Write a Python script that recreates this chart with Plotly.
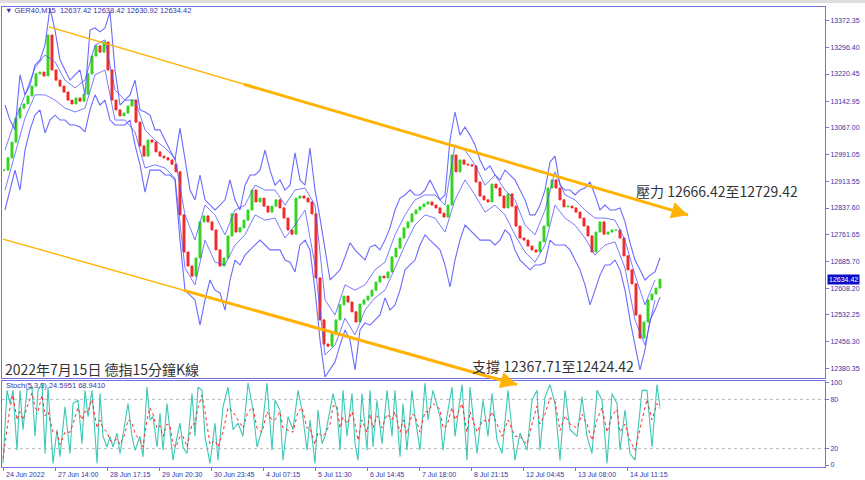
import plotly.graph_objects as go

# ---------------- data ----------------
date_labels = ["24 Jun 2022", "27 Jun 14:00", "28 Jun 17:15", "29 Jun 20:30", "30 Jun 23:45",
               "4 Jul 07:15", "5 Jul 11:30", "6 Jul 14:45", "7 Jul 18:00", "8 Jul 21:15",
               "12 Jul 04:45", "13 Jul 08:00", "14 Jul 11:15"]
date_bars = [-0.25, 12.75, 25.75, 38.75, 51.75, 64.75, 77.75, 90.75, 103.75, 116.75, 129.75, 142.75, 155.75]

price_ticks = [13372.35, 13296.40, 13220.45, 13142.95, 13067.00, 12991.05, 12913.55,
               12837.60, 12761.65, 12685.70, 12608.20, 12532.25, 12456.30, 12380.35]

# close price of each plotted bar
close = [12946, 12981, 13026, 13095, 13123, 13135, 13158, 13186, 13221, 13226,
         13215, 13332, 13232, 13203, 13186, 13169, 13146, 13135, 13152, 13143,
         13163, 13221, 13272, 13301, 13283, 13312, 13232, 13146, 13118, 13101,
         13109, 13129, 13146, 13083, 13015, 12986, 13032, 13026, 12998, 12986,
         12981, 12975, 12963, 12941, 12818, 12712, 12672, 12643, 12695, 12798,
         12815, 12798, 12775, 12718, 12672, 12695, 12758, 12821, 12769, 12781,
         12803, 12832, 12889, 12855, 12866, 12843, 12826, 12843, 12861, 12838,
         12809, 12775, 12763, 12866, 12872, 12866, 12855, 12821, 12638, 12518,
         12449, 12443, 12478, 12518, 12561, 12586, 12569, 12541, 12512, 12563,
         12575, 12586, 12603, 12626, 12643, 12638, 12655, 12698, 12723, 12752,
         12781, 12798, 12821, 12832, 12841, 12849, 12855, 12846, 12838, 12823,
         12812, 12846, 12989, 12941, 12975, 12963, 12961, 12958, 12912, 12872,
         12861, 12855, 12906, 12895, 12872, 12838, 12878, 12843, 12786, 12752,
         12746, 12729, 12718, 12712, 12741, 12786, 12895, 12918, 12895, 12861,
         12841, 12843, 12838, 12826, 12809, 12786, 12758, 12712, 12769, 12798,
         12763, 12769, 12775, 12775, 12752, 12701, 12661, 12621, 12532, 12466,
         12512, 12575, 12592, 12609, 12634.42]

# outer bands (one value every 1.25 bars)
band_upper = [13132, 13089, 13061, 13218, 13161, 13189, 13246, 13261, 13303, 13409,
              13346, 13261, 13232, 13203, 13218, 13232, 13161, 13346, 13352, 13341,
              13352, 13398, 13232, 13132, 13146, 13161, 13203, 13118, 13112, 13103,
              13061, 13061, 13032, 13003, 12975, 13066, 12975, 12889, 12861, 12932,
              12861, 12846, 12832, 12846, 12861, 12918, 12861, 12832, 12903, 12932,
              12932, 12946, 13003, 12946, 12903, 12918, 12889, 12903, 12995, 12918,
              12903, 13009, 12889, 12809, 12718, 12632, 12646, 12661, 12698, 12738,
              12718, 12703, 12689, 12726, 12732, 12718, 12746, 12781, 12832, 12866,
              12875, 12889, 12875, 12875, 12889, 12918, 12889, 12861, 12875, 13032,
              13112, 13046, 13069, 13046, 13018, 12975, 12946, 12958, 12932, 12918,
              12946, 12932, 12918, 12889, 12861, 12818, 12818, 12846, 12889, 12969,
              12986, 12903, 12889, 12889, 12875, 12889, 12895, 12912, 12875, 12832,
              12846, 12832, 12832, 12838, 12798, 12738, 12689, 12661, 12632, 12646,
              12655, 12695]
band_lower = [12832, 12889, 12946, 12889, 13003, 13061, 13103, 13118, 13052, 13089,
              13103, 13089, 13089, 13075, 13075, 13069, 13055, 13118, 13161, 13132,
              13146, 13089, 13075, 13075, 13075, 13089, 13018, 12961, 12883, 12946,
              12946, 12946, 12932, 12932, 12918, 12746, 12603, 12589, 12575, 12503,
              12575, 12632, 12603, 12595, 12546, 12632, 12689, 12675, 12703, 12718,
              12732, 12746, 12732, 12718, 12718, 12718, 12689, 12683, 12655, 12732,
              12746, 12718, 12603, 12461, 12355, 12375, 12398, 12446, 12489, 12461,
              12375, 12489, 12509, 12503, 12518, 12532, 12581, 12546, 12561, 12603,
              12661, 12675, 12689, 12732, 12761, 12746, 12732, 12718, 12675, 12612,
              12689, 12746, 12789, 12775, 12761, 12746, 12746, 12746, 12732, 12746,
              12775, 12761, 12718, 12689, 12675, 12661, 12675, 12675, 12681, 12746,
              12732, 12732, 12732, 12718, 12689, 12661, 12618, 12561, 12603, 12646,
              12675, 12675, 12689, 12661, 12603, 12518, 12446, 12375, 12432, 12518,
              12546, 12583]
# inner bands (one value every 2.5 bars)
inner_upper = [13003, 13089, 13161, 13238, 13275, 13255, 13203, 13181, 13203, 13303,
               13318, 13175, 13146, 13146, 13061, 13032, 13009, 12981, 12818, 12746,
               12846, 12818, 12761, 12832, 12846, 12903, 12889, 12889, 12846, 12889,
               12895, 12846, 12575, 12532, 12618, 12603, 12618, 12661, 12683, 12761,
               12818, 12861, 12875, 12875, 12846, 13018, 13003, 12961, 12903, 12932,
               12889, 12861, 12789, 12761, 12832, 12941, 12875, 12861, 12832, 12809,
               12809, 12803, 12746, 12646, 12561, 12632]
inner_lower = [12889, 12989, 13095, 13161, 13161, 13146, 13123, 13112, 13123, 13218,
               13232, 13089, 13089, 13055, 12952, 12961, 12952, 12923, 12666, 12618,
               12746, 12683, 12675, 12732, 12761, 12818, 12803, 12809, 12752, 12789,
               12832, 12675, 12418, 12446, 12523, 12475, 12546, 12581, 12603, 12666,
               12732, 12789, 12818, 12809, 12769, 12861, 12918, 12875, 12826, 12846,
               12818, 12761, 12712, 12683, 12732, 12846, 12809, 12789, 12752, 12703,
               12732, 12741, 12666, 12518, 12446, 12575]

# stochastic (sample times in bar units, %K, %D)
stoch_t = [-0.25, 0.75, 1.5, 2.25, 3.25, 4, 4.75, 5.75, 7, 7.75,
           8.5, 9.5, 10.25, 11, 12.25, 13.25, 14, 15.25, 16.5, 17.25,
           18.5, 19.5, 20.25, 21, 22, 23.25, 24, 24.75, 25.75, 26.5,
           27.25, 28.25, 29, 30.25, 31, 32, 32.75, 34, 34.75, 35.75,
           36.5, 37.25, 38.25, 39, 39.75, 40.75, 41.5, 42.25, 43, 44,
           44.75, 45.75, 47, 47.75, 48.5, 49.5, 50.25, 51.5, 52.75, 53.5,
           54.75, 56, 57.25, 58.5, 59.75, 61, 62.25, 63.25, 64.5, 65.75,
           67, 67.75, 69, 69.75, 71, 72.25, 73.5, 74.5, 75.75, 76.5,
           77.75, 78.5, 79.5, 80.25, 81.5, 82.25, 83.25, 84, 84.75, 85.75,
           87, 87.75, 88.5, 89.5, 90.75, 91.5, 92.25, 93.25, 94.5, 95.75,
           97, 97.75, 99, 99.75, 100.75, 102, 102.75, 104, 105.25, 106,
           107.25, 109, 109.75, 110.75, 112, 112.75, 114.5, 115.75, 116.5, 118.25,
           119.75, 121, 122, 123.25, 124.5, 126, 127.75, 129, 130.75, 132,
           133.25, 134, 135.25, 136.5, 137.75, 139, 140.25, 141.5, 143.25, 144.5,
           145.75, 147, 148.25, 149.5, 150.75, 152, 153.25, 154, 155.25, 156.5,
           157.75, 159.5, 160.75, 162, 163.25, 164]
stoch_k = [2, 91, 75, 91, 18, 91, 43, 91, 95, 35,
           91, 100, 14, 95, 2, 43, 10, 71, 14, 75,
           79, 26, 91, 59, 91, 2, 87, 35, 22, 35,
           22, 39, 14, 55, 75, 35, 18, 35, 10, 95,
           55, 59, 22, 63, 18, 75, 43, 6, 28, 51,
           22, 14, 87, 35, 95, 91, 35, 2, 51, 6,
           71, 95, 43, 51, 35, 100, 67, 22, 43, 100,
           18, 79, 67, 6, 59, 43, 91, 67, 18, 55,
           2, 67, 26, 35, 67, 87, 67, 18, 91, 35,
           87, 26, 6, 87, 18, 91, 22, 79, 26, 91,
           35, 91, 10, 75, 18, 91, 59, 18, 100, 55,
           91, 59, 18, 60, 95, 35, 98, 6, 95, 14,
           79, 35, 87, 30, 14, 91, 6, 39, 18, 79,
           91, 18, 83, 98, 75, 6, 91, 43, 35, 83,
           35, 14, 91, 79, 2, 87, 75, 18, 67, 14,
           6, 91, 91, 22, 98, 71]
stoch_d = [8, 45, 70, 85, 55, 65, 55, 70, 88, 70,
           65, 85, 60, 65, 40, 40, 25, 40, 40, 50,
           70, 55, 65, 65, 80, 45, 55, 45, 40, 30,
           28, 32, 25, 38, 55, 52, 38, 30, 22, 55,
           70, 62, 45, 48, 35, 50, 48, 25, 22, 35,
           35, 22, 50, 50, 70, 85, 65, 25, 30, 22,
           40, 70, 65, 55, 45, 65, 70, 45, 40, 65,
           55, 55, 65, 45, 42, 40, 65, 70, 45, 45,
           25, 40, 35, 38, 50, 72, 72, 45, 58, 50,
           65, 50, 30, 55, 40, 62, 45, 60, 45, 62,
           55, 65, 40, 55, 38, 62, 60, 40, 65, 65,
           75, 68, 45, 48, 70, 55, 75, 40, 65, 40,
           55, 52, 65, 50, 35, 55, 35, 35, 25, 50,
           72, 50, 62, 82, 78, 42, 60, 50, 45, 62,
           50, 30, 55, 70, 40, 60, 68, 40, 50, 30,
           18, 55, 80, 55, 75, 69]

# analyst trend lines: (bar, price) start / end, bar where the line gets thick
trend_upper = [(11.25, 13355.0), (171.0, 12818.0), 60.0]
trend_lower = [(-0.25, 12749.0), (128.25, 12333.0), 45.0]

header_text = "▼ GER40,M15  12637.42 12638.42 12630.92 12634.42"
stoch_text = "Stoch(5,3,3) 24.5951 68.9410"
title_text = "2022年7月15日 德指15分鐘K線"
resist_text = "壓力 12666.42至12729.42"
support_text = "支撐 12367.71至12424.42"
last_price = 12634.42

# ---------------- geometry ----------------
W, H = 865, 480
ML, MR, MT, MB = 2, 40, 7, 13
PW, PH = W - ML - MR, H - MT - MB
XR = [-0.5, 205.25]
YR = [12352, 13412]
MAIN_DOM = [(467 - 378) / PH, 1.0]
STO_DOM = [0.0, (467 - 381) / PH]
STO_R = [-2.4, 102.4]

FRAME = "#7272e6"
AXTXT = "#3636a8"
ORANGE = "#FFB300"
BLUE = "#5252ff"


def px2paper(px, py):
    return (px - ML) / PW, (H - MB - py) / PH


def to_paper(bar, price):
    xp = (bar - XR[0]) / (XR[1] - XR[0])
    yp = MAIN_DOM[0] + (price - YR[0]) / (YR[1] - YR[0]) * (MAIN_DOM[1] - MAIN_DOM[0])
    return xp, yp


n = len(close)
bars = list(range(n))
opens = [close[0]] + close[:-1]
highs = [max(o, c) for o, c in zip(opens, close)]
lows = [min(o, c) for o, c in zip(opens, close)]

bu_t = [0.25 + 1.25 * j for j in range(len(band_upper))]
bl_t = [0.25 + 1.25 * j for j in range(len(band_lower))]
iu_t = [0.25 + 2.5 * j for j in range(len(inner_upper))]
il_t = [0.25 + 2.5 * j for j in range(len(inner_lower))]

fig = go.Figure()
for tx, vy, w in [(bu_t, band_upper, 1.1), (bl_t, band_lower, 1.1),
                  (iu_t, inner_upper, 0.9), (il_t, inner_lower, 0.9)]:
    fig.add_trace(go.Scatter(x=tx, y=vy, mode="lines", line=dict(color=BLUE, width=w),
                             opacity=0.85, xaxis="x", yaxis="y", hoverinfo="skip"))

fig.add_trace(go.Candlestick(
    x=bars, open=opens, high=highs, low=lows, close=close,
    increasing=dict(line=dict(color="#22dd22", width=1), fillcolor="#66bb22"),
    decreasing=dict(line=dict(color="#ff2020", width=1), fillcolor="#cc4040"),
    xaxis="x", yaxis="y", hoverinfo="skip"))

ns = min(len(stoch_t), len(stoch_k), len(stoch_d))
fig.add_trace(go.Scatter(x=stoch_t[:ns], y=stoch_k[:ns], mode="lines",
                         line=dict(color="#3cc8b6", width=1.1), xaxis="x2", yaxis="y2",
                         hoverinfo="skip"))
fig.add_trace(go.Scatter(x=stoch_t[:ns], y=stoch_d[:ns], mode="lines",
                         line=dict(color="#ff2a2a", width=1, dash="dot"), xaxis="x2", yaxis="y2",
                         hoverinfo="skip"))

shapes = []
annotations = []

# stochastic levels
for lv in (80, 20):
    shapes.append(dict(type="line", xref="paper", yref="y2", x0=0, x1=1, y0=lv, y1=lv,
                       line=dict(color="#bdbdbd", width=1, dash="dot"), layer="below"))

# toolbar strip at the very top
shapes.append(dict(type="rect", xref="paper", yref="paper",
                   x0=-ML / PW, x1=(W - ML) / PW, y0=1 + (MT - 3) / PH, y1=1 + MT / PH,
                   fillcolor="#dedede", line=dict(width=0)))

# trend lines with arrows
for (b0, p0), (b1, p1), bthick in (trend_upper, trend_lower):
    x0, y0 = to_paper(b0, p0)
    x1, y1 = to_paper(b1, p1)
    shapes.append(dict(type="line", xref="paper", yref="paper", x0=x0, y0=y0, x1=x1, y1=y1,
                       line=dict(color=ORANGE, width=1.4)))
    f = (bthick - b0) / (b1 - b0)
    pt = p0 + f * (p1 - p0)
    xt, yt = to_paper(bthick, pt)
    shapes.append(dict(type="line", xref="paper", yref="paper", x0=xt, y0=yt, x1=x1, y1=y1,
                       line=dict(color=ORANGE, width=3)))
    dx = (x1 - x0) * PW
    dy = -(y1 - y0) * PH
    L = (dx * dx + dy * dy) ** 0.5
    ux, uy = dx / L, dy / L
    annotations.append(dict(x=x1, y=y1, xref="paper", yref="paper", text="", showarrow=True,
                            ax=-ux * 16, ay=-uy * 16, arrowhead=2, arrowsize=1.1,
                            arrowwidth=3, arrowcolor=ORANGE, standoff=0))

# texts
def text_at(px, py, txt, size, color, family):
    xp, yp = px2paper(px, py)
    annotations.append(dict(x=xp, y=yp, xref="paper", yref="paper", text=txt, showarrow=False,
                            xanchor="left", yanchor="middle",
                            font=dict(size=size, color=color, family=family)))

text_at(3, 11, header_text, 7.5, AXTXT, "Liberation Sans, DejaVu Sans")
text_at(4, 385, stoch_text, 7.5, AXTXT, "Liberation Sans, DejaVu Sans")
text_at(3, 369, title_text, 14, "#333333", "Noto Sans CJK TC")
text_at(634, 191, resist_text, 14, "#333333", "Noto Sans CJK TC")
text_at(470, 366, support_text, 14, "#333333", "Noto Sans CJK TC")

# date labels (left aligned at their tick, MT4 style)
for b, lab in zip(date_bars, date_labels):
    annotations.append(dict(x=b, y=(H - MB - 474.5) / PH, xref="x2", yref="paper", text=lab,
                            showarrow=False, xanchor="left", yanchor="middle", xshift=1,
                            font=dict(size=7, color=AXTXT, family="Liberation Sans")))

# current price box
annotations.append(dict(x=1, y=last_price, xref="paper", yref="y", text=f"{last_price:.2f}",
                        showarrow=False, xanchor="left", yanchor="middle", xshift=2,
                        bgcolor="#0c0cc8", borderpad=1,
                        font=dict(size=7, color="white", family="Liberation Sans")))

axis_common = dict(showgrid=False, zeroline=False, showline=True, linecolor=FRAME,
                   linewidth=1, mirror=True)

fig.update_layout(
    width=W, height=H, margin=dict(l=ML, r=MR, t=MT, b=MB),
    paper_bgcolor="white", plot_bgcolor="white", showlegend=False,
    hovermode=False, boxgap=0.3,
    xaxis=dict(domain=[0, 1], anchor="y", range=XR, showticklabels=False, ticks="",
               rangeslider=dict(visible=False), **axis_common),
    yaxis=dict(domain=MAIN_DOM, anchor="x", range=YR, side="right",
               tickvals=price_ticks, ticktext=[f"{v:.2f}" for v in price_ticks],
               ticks="outside", ticklen=3, tickcolor=FRAME,
               tickfont=dict(size=7, color=AXTXT, family="Liberation Sans"), **axis_common),
    xaxis2=dict(domain=[0, 1], anchor="y2", range=XR, tickvals=date_bars, showticklabels=False,
                ticks="outside", ticklen=3, tickcolor=FRAME, **axis_common),
    yaxis2=dict(domain=STO_DOM, anchor="x2", range=STO_R, side="right",
                tickvals=[0, 20, 80, 100], ticktext=["0", "20", "80", "100"],
                ticks="outside", ticklen=3, tickcolor=FRAME,
                tickfont=dict(size=7, color=AXTXT, family="Liberation Sans"), **axis_common),
    shapes=shapes, annotations=annotations,
)

fig.write_html("out.html", config={"displayModeBar": False},
               post_script="document.body.style.margin='0px';")
